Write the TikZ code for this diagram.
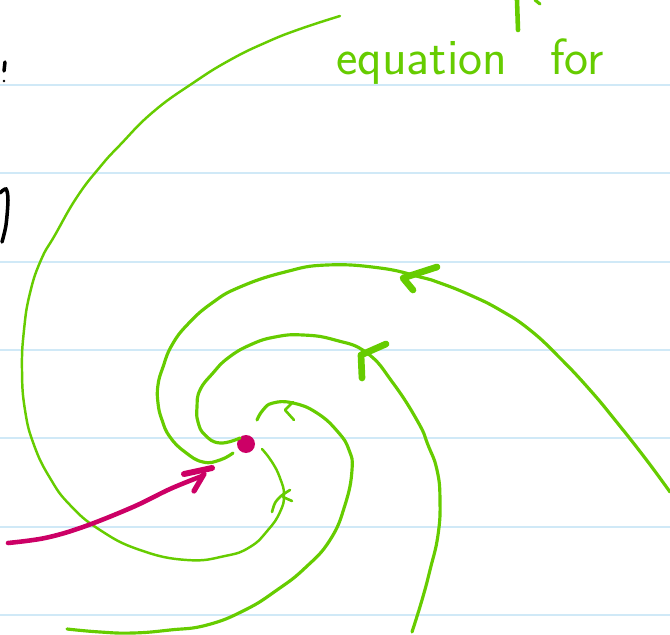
\documentclass[tikz,border=0pt]{standalone}
\usepackage{tikz}
\usetikzlibrary{positioning}
\definecolor{rulingblue}{RGB}{208,233,247}
\definecolor{flowgreen}{RGB}{102,204,0}
\definecolor{pointmag}{RGB}{204,0,102}

\begin{document}
\begin{tikzpicture}[
  x=0.02cm, y=-0.02cm,
  ruling/.style={draw=rulingblue, line width=0.9pt},
  orbit/.style={draw=flowgreen, line width=1.8pt, line cap=round, smooth, tension=0.8},
  headmark/.style={draw=flowgreen, line width=3.8pt, line cap=round, line join=round},
  tick/.style={draw=flowgreen, line width=1.5pt, line cap=round, line join=round},
  pen/.style={draw=black, line width=2pt, line cap=round},
  word/.style={text=flowgreen, font=\sffamily\fontsize{29}{32}\selectfont, inner sep=0pt, anchor=base west}
]
  \useasboundingbox (0,0) rectangle (670,635);
  \foreach \y in {85,173,262,350,438,527,615}
    \draw[ruling] (0,\y) -- (670,\y);

  \node[word] (eqword) at (336,75) {equation};
  \node[word, right=24pt of eqword.base east, anchor=base west] (forword) {for};
  \draw[flowgreen, line width=2.6pt, line cap=round] (517,0) -- (518,30);
  \draw[flowgreen, line width=1.8pt, line cap=round] (535,0) -- (540,4);

  \draw[pen] (5,62) -- (4,71);
  \fill (4,81) circle (1.3);
  \draw[pen, smooth] plot coordinates {(0,193) (6,189) (8,200) (6,225) (2,242)};

  \node[circle, fill=pointmag, minimum size=18*0.02cm, inner sep=0pt] (fixpt) at (246,444) {};

  % outermost orbit
  \draw[orbit, line width=1.4pt] plot coordinates {(340,16) (300,29) (267,42) (230,60) (193,83)
    (153,112) (120,145) (100,167) (77,197) (55,235) (41,260) (30,293) (24,330) (22,370) (25,410)
    (34,445) (50,478) (70,505) (100,530) (140,550) (187,560) (225,556) (250,547) (268,530)
    (280,512) (284,495) (280,478) (272,462) (262,449)};
  \draw[tick, smooth] plot coordinates {(272,512) (275,503) (281,496) (290,490)};
  \draw[tick] (283,497) -- (292,501);

  \draw[orbit] plot coordinates {(67,629) (100,632) (133,633) (170,630) (207,625) (245,610)
    (277,590) (305,568) (330,540) (345,505) (352,470) (349,450) (338,432) (317,413) (293,403)
    (273,403) (263,410) (257,420)};
  \draw[tick] (293,402) -- (285,410) -- (294,420);

  \draw[orbit] plot coordinates {(412,632) (422,600) (430,570) (438,535) (440,500) (437,470)
    (428,445) (418,422) (393,383) (367,353) (335,340) (303,335) (275,337) (250,345) (228,358)
    (213,373) (200,390) (197,407) (198,422) (205,435) (220,443) (240,438)};
  \draw[headmark] (386,344) -- (361,355) -- (362,378);

  \draw[orbit] plot coordinates {(670,492) (645,458) (615,420) (590,390) (560,358) (530,330)
    (500,310) (470,295) (440,283) (420,277) (380,268) (327,265) (285,272) (240,287) (212,303)
    (188,324) (172,345) (163,367) (158,385) (158,403) (162,420) (170,437) (185,452) (203,462)
    (220,460) (233,453)};
  \draw[headmark] (437,267) -- (403,278) -- (413,290);

  % approach to the fixed point
  \draw[pointmag, line width=2.6pt, line cap=round, smooth, tension=0.6] plot coordinates
    {(8,543) (45,538) (83,527) (133,507) (170,489) (202,476)};
  \draw[pointmag, line width=3.4pt, line cap=round] (184,474) -- (212,468);
  \draw[pointmag, line width=3pt, line cap=round] (194,491) -- (204,474);
\end{tikzpicture}
\end{document}
